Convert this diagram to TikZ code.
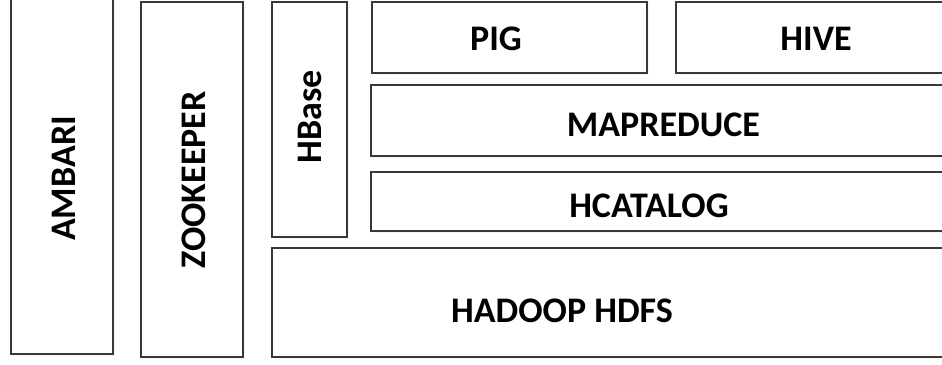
\documentclass[tikz,border=0pt]{standalone}
\usepackage{fontspec}
\setmainfont{Carlito}
\usepackage{tikz}
\usetikzlibrary{shadows, positioning}

\tikzset{
  layer/.style={draw=black!78, line width=1.3pt, fill=white,
    drop shadow={opacity=0.08, shadow xshift=1.5pt, shadow yshift=-2pt}},
  lbl/.style={inner sep=0pt, font=\fontsize{36}{42}\selectfont\bfseries},
}

\begin{document}
\begin{tikzpicture}[x=1pt, y=-1pt]
			\useasboundingbox (0,0) rectangle (942,364);
			\clip (0,0) rectangle (942,364);
			
			% Side columns
			\draw[layer] (11,-2) rectangle (113,354);
			\node[lbl, rotate=90] (ambari) at (63.5,178.5) {AMBARI};
			\draw[layer] (141,2) rectangle (243,357);
			\node[lbl, rotate=90] (zookeeper) at (193.5,180) {ZOOKEEPER};
			\draw[layer] (272,2) rectangle (347,237);
			\node[lbl, rotate=90] (hbase) at (310,117) {HBase};
			
			% Top tools
			\draw[layer] (372,2) rectangle (647,73);
			\node[lbl] (pig) at (496,38.5) {PIG};
			\draw[layer] (676,2) rectangle (960,73);
			\node[lbl] (hive) at (816,38.5) {HIVE};
			
			% Middle layers
			\draw[layer] (371,85) rectangle (960,156);
			\node[lbl] (mapreduce) at (663.5,124.5) {MAPREDUCE};
			\draw[layer] (371,172) rectangle (960,231);
			\node[lbl] (hcatalog) at (649,206) {HCATALOG};
			
			% Storage
			\draw[layer] (272,248) rectangle (960,357);
			\node[lbl] (hdfs) at (562,311) {HADOOP HDFS};
		\end{tikzpicture}
\end{document}
